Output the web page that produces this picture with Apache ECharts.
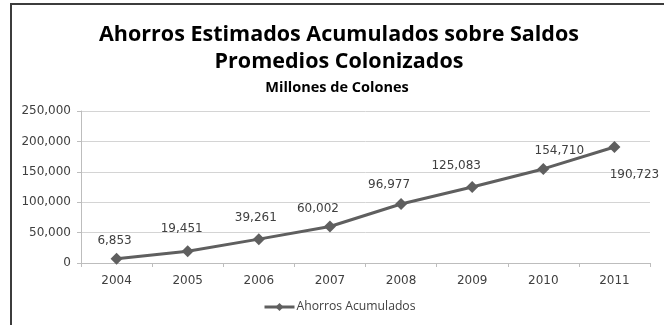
<!DOCTYPE html>
<html>
<head>
<meta charset="utf-8">
<script src="https://cdn.jsdelivr.net/npm/echarts@6/dist/echarts.min.js"></script>
<style>
  html, body { margin: 0; padding: 0; background: #fff; }
  #chart { width: 664px; height: 325px; }
</style>
</head>
<body>
<div id="chart"></div>
<script>
// Years on the category axis
const years = ['2004', '2005', '2006', '2007', '2008', '2009', '2010', '2011'];
// Accumulated savings, millions of colones
const savings = [6853, 19451, 39261, 60002, 96977, 125083, 154710, 190723];
// Value-axis ticks
const yTicks = [0, 50000, 100000, 150000, 200000, 250000];

// Where each value label sits relative to its marker (px)
const labelShift = [[-2, -18], [-6, -22], [-3, -21], [-12, -18], [-12, -19], [-16, -21], [16, -18], [20, 28]];

const fmt = v => v.toLocaleString('en-US');
const textColor = '#404040';
const labelFont = 'DejaVu Sans';

const chart = echarts.init(document.getElementById('chart'), null, { renderer: 'canvas' });

chart.setOption({
  backgroundColor: '#ffffff',
  animation: false,
  graphic: [
    { type: 'rect', shape: { x: 10, y: 3, width: 660, height: 2 }, style: { fill: '#3c3c3c' } },
    { type: 'rect', shape: { x: 10, y: 3, width: 2, height: 330 }, style: { fill: '#3c3c3c' } }
  ],
  title: [
    {
      text: 'Ahorros Estimados Acumulados sobre Saldos\nPromedios Colonizados',
      left: 334, top: 16, textAlign: 'center',
      textStyle: { fontFamily: 'Open Sans', fontWeight: 'bold', fontSize: 21.5, lineHeight: 27, color: '#000' }
    },
    {
      text: 'Millones de Colones',
      left: 332, top: 75, textAlign: 'center',
      textStyle: { fontFamily: 'Open Sans', fontWeight: 'bold', fontSize: 14.5, color: '#000' }
    }
  ],
  legend: {
    bottom: 7, left: 258,
    itemWidth: 30, itemHeight: 10, itemGap: 4,
    textStyle: { fontFamily: 'Open Sans', fontSize: 12.2, color: textColor, padding: [0, 0, 0, -3] },
    lineStyle: { width: 3 },
    data: ['Ahorros Acumulados']
  },
  grid: { left: 81, right: 14, top: 111, bottom: 62, containLabel: false },
  xAxis: {
    type: 'category',
    data: years,
    boundaryGap: true,
    axisLine: { lineStyle: { color: '#bdbdbd', width: 1 } },
    axisTick: { show: true, length: 4, lineStyle: { color: '#bdbdbd' } },
    axisLabel: { fontFamily: labelFont, fontSize: 12, color: textColor, margin: 12 }
  },
  yAxis: {
    type: 'value',
    min: yTicks[0], max: yTicks[yTicks.length - 1], interval: yTicks[1] - yTicks[0],
    axisLine: { show: true, lineStyle: { color: '#bdbdbd', width: 1 } },
    axisTick: { show: true, length: 4, lineStyle: { color: '#bdbdbd' } },
    splitLine: { lineStyle: { color: '#d4d4d4', width: 1 } },
    axisLabel: { fontFamily: labelFont, fontSize: 12, color: textColor, margin: 10, formatter: fmt }
  },
  series: [{
    name: 'Ahorros Acumulados',
    type: 'line',
    data: savings.map((v, i) => ({
      value: v,
      label: { offset: labelShift[i] }
    })),
    symbol: 'diamond',
    symbolSize: 12,
    lineStyle: { color: '#5f5f5f', width: 3 },
    itemStyle: { color: '#5f5f5f' },
    label: {
      show: true, position: 'inside', align: 'center', verticalAlign: 'middle',
      fontFamily: labelFont, fontSize: 12, color: textColor,
      formatter: p => fmt(p.value)
    }
  }]
});
</script>
</body>
</html>
